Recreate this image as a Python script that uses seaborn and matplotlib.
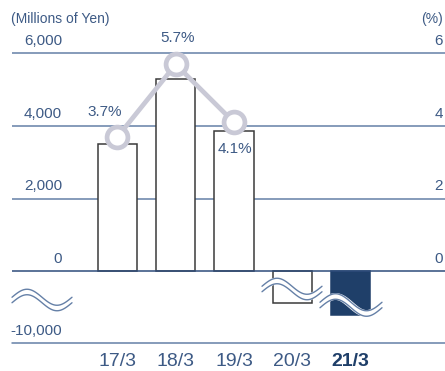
import numpy as np
import matplotlib
matplotlib.use("Agg")
import matplotlib.pyplot as plt
import seaborn as sns

# fiscal years and values (Millions of Yen); 20/3 and 21/3 sit on a broken axis,
# so their heights are the drawn (compressed) heights
years = ["17/3", "18/3", "19/3", "20/3", "21/3"]
amounts = [3500, 5290, 3870, -890, -1215]
bar_colors = ["white", "white", "white", "white", "#1F3F69"]
pct_years = [0, 1, 2]
pct_values = [3.7, 5.7, 4.1]
pct_labels = ["3.7%", "5.7%", "4.1%"]
left_ticks = [6000, 4000, 2000, 0]
left_labels = ["6,000", "4,000", "2,000", "0"]
right_labels = ["6", "4", "2", "0"]

GRID = "#6580A7"
ZERO = "#2E4C7A"
TEXT = "#3D5A85"
NAVY = "#1F3F69"
GREY = "#C9C9D6"

sns.set_style("white")
plt.rcParams["font.family"] = ["Liberation Sans", "DejaVu Sans"]

fig = plt.figure(figsize=(4.45, 3.71), dpi=100)
ax = fig.add_axes([0, 0, 1, 1])

# pixel helpers (the axes fills the whole figure)
XU = 58.25          # px per category
YU = 2000 / 72.5    # yen per px
def px_x(p):
    return (p - 117.5) / XU
def px_y(p):
    return (271 - p) * YU

sns.barplot(x=years, y=amounts, ax=ax, width=0.67, color="white",
            edgecolor="#3A3A3A", linewidth=1.1, zorder=3)
for patch, c in zip(ax.patches, bar_colors):
    patch.set_facecolor(c)
    if c != "white":
        patch.set_edgecolor(c)

ax.set_xlim(px_x(0), px_x(445))
ax.set_ylim(px_y(371), px_y(0))
ax.axis("off")

# horizontal rules
for v in left_ticks:
    ax.plot([px_x(12), px_x(445)], [v, v], color=ZERO if v == 0 else GRID,
            lw=1.1, zorder=1 if v else 4, solid_capstyle="butt")
ax.plot([px_x(12), px_x(445)], [px_y(343)] * 2, color=GRID, lw=1.1, zorder=1)

for v, l, r in zip(left_ticks, left_labels, right_labels):
    ax.text(px_x(62), v + 5 * YU, l, ha="right", va="bottom", fontsize=11, color=TEXT)
    ax.text(px_x(443), v + 5 * YU, r, ha="right", va="bottom", fontsize=11, color=TEXT)
ax.text(px_x(62), px_y(343) + 5 * YU, "-10,000", ha="right", va="bottom", fontsize=11, color=TEXT)
ax.text(px_x(11), px_y(19), "(Millions of Yen)", ha="left", va="center", fontsize=10, color=TEXT)
ax.text(px_x(443), px_y(19), "(%)", ha="right", va="center", fontsize=10, color=TEXT)

for i, y in enumerate(years):
    ax.text(i, px_y(361), y, ha="center", va="center", fontsize=14,
            color=NAVY if i == 4 else TEXT, fontweight="bold" if i == 4 else "normal")

# break marks (double wavy line)
def wave(x0, x1, yc, amp=8, band=5.5):
    xs = np.linspace(x0, x1, 80)
    t = (xs - x0) / (x1 - x0)
    ys = yc - amp * np.sin(2 * np.pi * t)
    ax.plot(px_x(xs), px_y(ys), color="white", lw=band * 0.72 + 1, zorder=6,
            solid_capstyle="butt")
    for off in (-band / 2, band / 2):
        ax.plot(px_x(xs), px_y(ys + off), color=GRID, lw=1.0, zorder=7)

wave(12, 72, 300)
wave(262, 322, 289)
wave(320, 382, 305, amp=8.5)

# percentage line on the right axis
ax2 = ax.twinx()
ax2.set_ylim(px_y(371) / 1000, px_y(0) / 1000)
ax2.axis("off")
sns.lineplot(x=pct_years, y=pct_values, ax=ax2, color=GREY, lw=3.4, marker="o",
             markersize=15, markerfacecolor="white", markeredgecolor=GREY,
             markeredgewidth=3.4, zorder=8)
offsets = [(-13, 25), (2, 26), (1, -27)]
for x, v, lab, (dx, dy) in zip(pct_years, pct_values, pct_labels, offsets):
    ax2.annotate(lab, (x, v), xytext=(dx * 0.72, dy * 0.72), textcoords="offset points",
                 ha="center", va="center", fontsize=11, color=TEXT, zorder=9)

fig.savefig("out.png", dpi=100)
